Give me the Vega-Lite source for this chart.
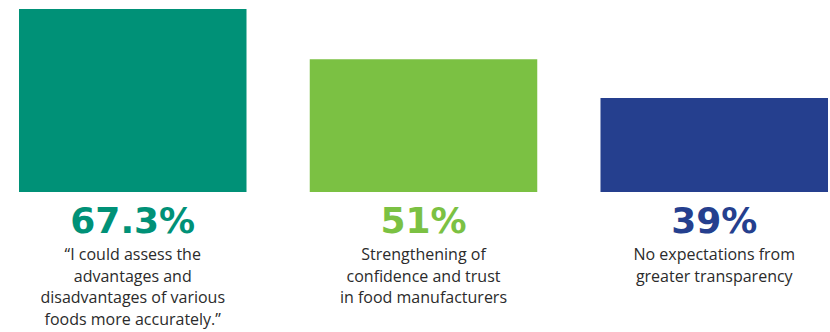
{
  "$schema": "https://vega.github.io/schema/vega-lite/v6.json",
  "width": 830,
  "height": 332,
  "autosize": {"type": "none"},
  "padding": 0,
  "background": "white",
  "config": {"view": {"stroke": null}},
  "data": {
    "values": [
      {"item": "A", "value": 67.3, "label": "67.3%", "desc": "“I could assess the|advantages and|disadvantages of various|foods more accurately.”", "color": "#009177"},
      {"item": "B", "value": 51.3, "label": "51%", "desc": "Strengthening of|confidence and trust|in food manufacturers", "color": "#7bc143"},
      {"item": "C", "value": 39, "label": "39%", "desc": "No expectations from|greater transparency", "color": "#253f8e"}
    ]
  },
  "encoding": {
    "x": {
      "field": "item", "type": "nominal", "axis": null,
      "scale": {"paddingInner": 0.2175, "paddingOuter": 0.0361, "align": 0.905}
    }
  },
  "layer": [
    {
      "mark": {"type": "bar"},
      "encoding": {
        "y": {"field": "value", "type": "quantitative", "axis": null, "scale": {"domain": [-35.4, 70.16], "zero": false, "nice": false}},
        "y2": {"datum": 9.11},
        "color": {"field": "color", "type": "nominal", "scale": null, "legend": null}
      }
    },
    {
      "mark": {"type": "text", "font": "DejaVu Sans", "fontWeight": "bold", "fontSize": 36, "baseline": "middle", "dy": 30},
      "encoding": {
        "y": {"datum": 9.11},
        "text": {"field": "label"},
        "color": {"field": "color", "type": "nominal", "scale": null, "legend": null}
      }
    },
    {
      "mark": {"type": "text", "font": "Open Sans", "fontSize": 16, "baseline": "top", "dy": 55, "lineBreak": "|", "lineHeight": 21.5, "color": "#2b2b2b"},
      "encoding": {
        "y": {"datum": 9.11},
        "text": {"field": "desc"}
      }
    }
  ]
}
